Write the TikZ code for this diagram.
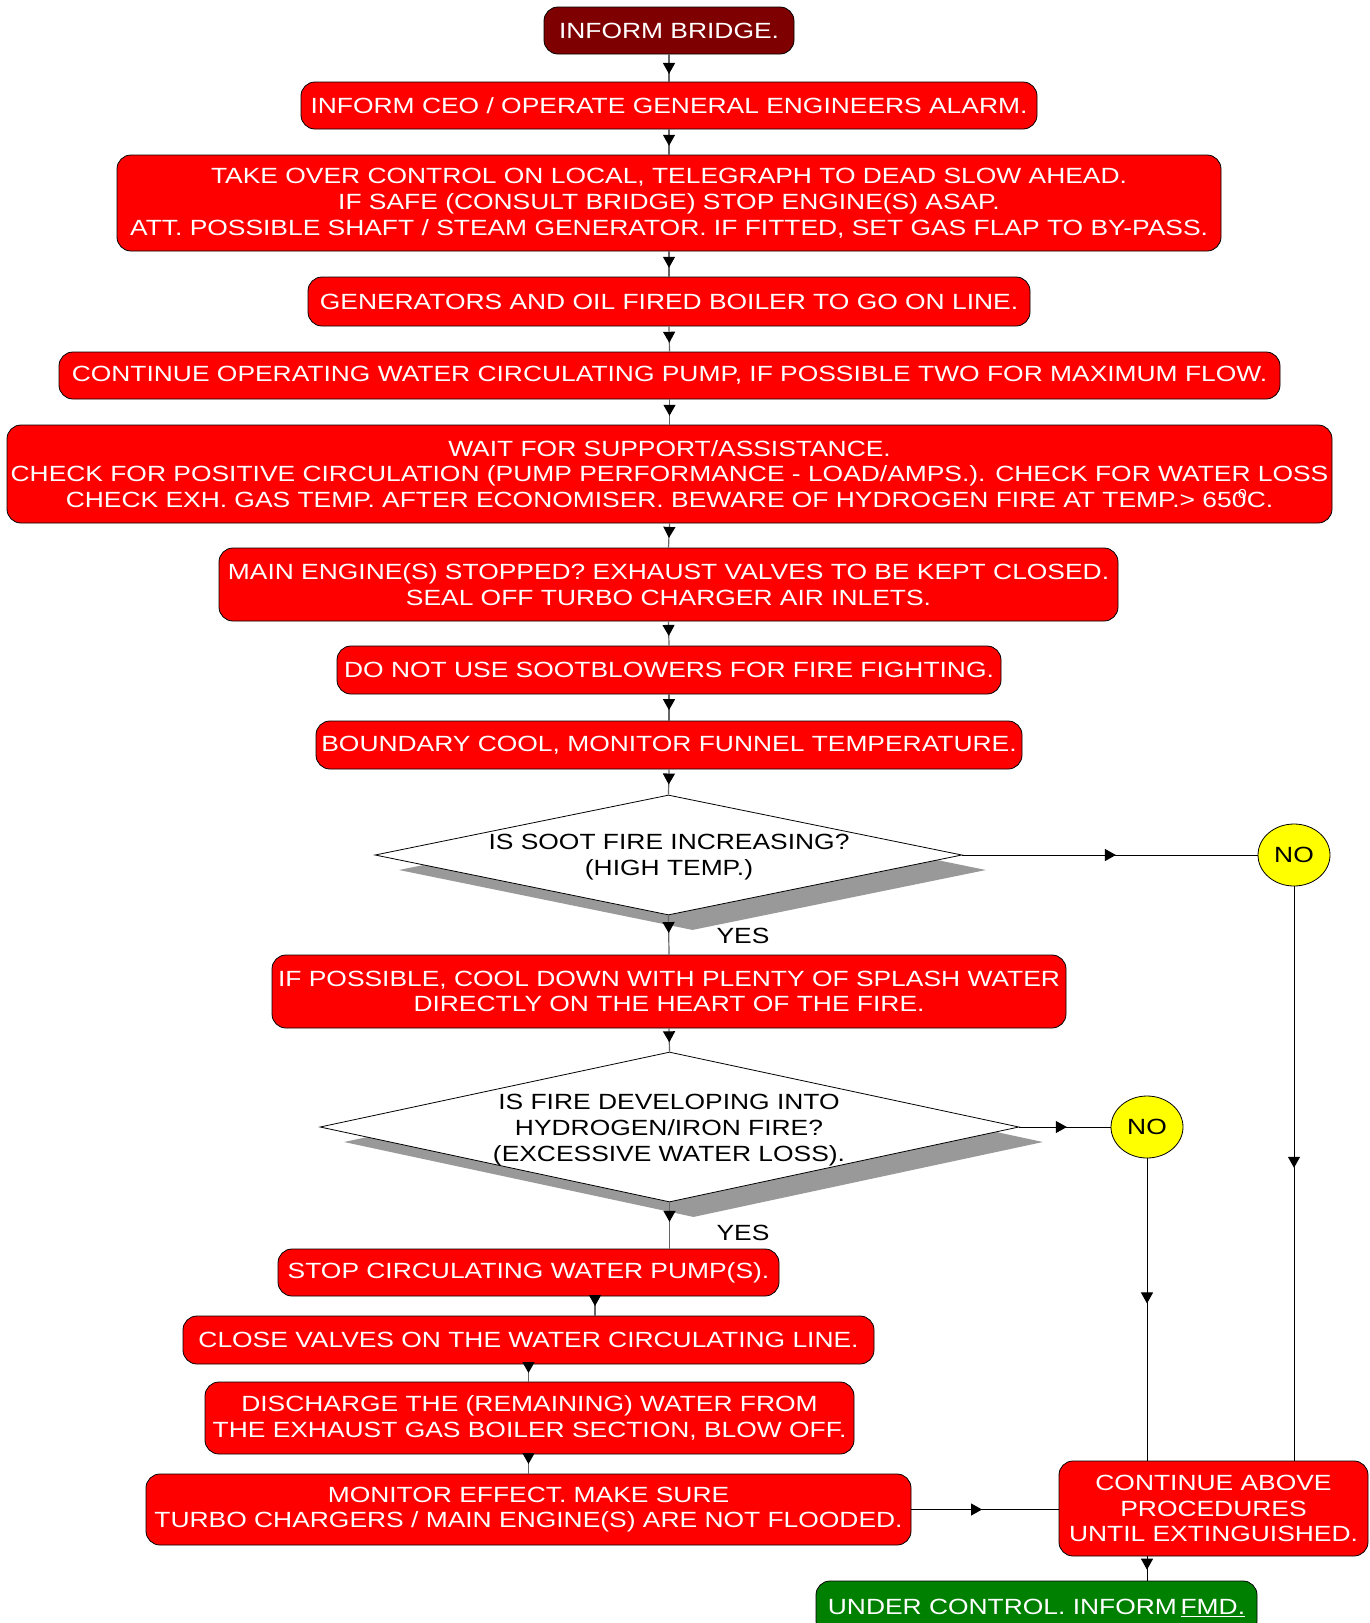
\documentclass[tikz,border=0pt]{standalone}
\usepackage{fontspec}
\setmainfont{Liberation Sans}[FakeStretch=1.2]
\usetikzlibrary{arrows.meta,decorations.markings,shapes.geometric}
\definecolor{bred}{HTML}{FF0000}
\definecolor{dred}{HTML}{7F0000}
\definecolor{bgreen}{HTML}{008000}
\definecolor{byellow}{HTML}{FFFF00}
\definecolor{shadowgray}{HTML}{999999}
\newcommand\boxfont{\fontsize{22}{25.8}\selectfont}
\tikzset{
  box/.style={draw=black, line width=0.8pt, fill=bred, rounded corners=14pt, text=white,
    font=\boxfont, align=center, inner sep=0pt},
  dia/.style={shape=diamond, draw=black, line width=0.8pt, fill=white, inner sep=0pt},
  diashadow/.style={shape=diamond, fill=shadowgray, draw=none, inner sep=0pt},
  dtext/.style={font=\boxfont, align=center, text=black, inner sep=0pt},
  noellipse/.style={shape=ellipse, draw=black, line width=0.8pt, fill=byellow, font=\boxfont,
    minimum width=72pt, minimum height=62pt, inner sep=0pt},
  lbl/.style={font=\boxfont, text=black, inner sep=0pt},
  conn/.style={draw=black!60, line width=1.2pt},
  sconn/.style={draw=black, line width=1pt},
  tipat/.style={postaction={decorate}, decoration={markings,
    mark=at position #1 with {\arrow[black]{Triangle[length=11pt,width=12pt]}}}},
}
\begin{document}
\begin{tikzpicture}[x=1pt,y=-1pt]
\useasboundingbox (0,0) rectangle (1369,1623);
\clip (0,0) rectangle (1369,1623);
\fill[white] (0,0) rectangle (1369,1623);

% main boxes
\node[box, fill=dred, minimum width=250pt, minimum height=47pt] (b1) at (669,30.5) {INFORM BRIDGE.};
\node[box, minimum width=736pt, minimum height=47pt] (b2) at (669,105.5) {INFORM CEO / OPERATE GENERAL ENGINEERS ALARM.};
\node[box, minimum width=1104pt, minimum height=96pt] (b3) at (669,203) {TAKE OVER CONTROL ON LOCAL, TELEGRAPH TO DEAD SLOW AHEAD.\\IF SAFE (CONSULT BRIDGE) STOP ENGINE(S) ASAP.\\ATT. POSSIBLE SHAFT / STEAM GENERATOR. IF FITTED, SET GAS FLAP TO BY-PASS.};
\node[box, minimum width=722pt, minimum height=49pt] (b4) at (669,301.5) {GENERATORS AND OIL FIRED BOILER TO GO ON LINE.};
\node[box, minimum width=1221pt, minimum height=47pt] (b5) at (669.5,375.5) {CONTINUE OPERATING WATER CIRCULATING PUMP, IF POSSIBLE TWO FOR MAXIMUM FLOW.};
\node[box, minimum width=1325pt, minimum height=98pt] (b6) at (669.5,474) {WAIT FOR SUPPORT/ASSISTANCE.\\CHECK FOR POSITIVE CIRCULATION (PUMP PERFORMANCE - LOAD/AMPS.). CHECK FOR WATER LOSS\\CHECK EXH. GAS TEMP. AFTER ECONOMISER. BEWARE OF HYDROGEN FIRE AT TEMP.> 650\kern-0.38em\raisebox{0.75ex}{\fontsize{13}{13}\selectfont 0}C.};
\node[box, minimum width=899pt, minimum height=73pt] (b7) at (668.5,584.5) {MAIN ENGINE(S) STOPPED? EXHAUST VALVES TO BE KEPT CLOSED.\\SEAL OFF TURBO CHARGER AIR INLETS.};
\node[box, minimum width=664pt, minimum height=48pt] (b8) at (669,670) {DO NOT USE SOOTBLOWERS FOR FIRE FIGHTING.};
\node[box, minimum width=706pt, minimum height=48pt] (b9) at (669,745) {BOUNDARY COOL, MONITOR FUNNEL TEMPERATURE.};

% decision 1
\node[diashadow, minimum width=587pt, minimum height=120pt] (d1s) at (692.5,870) {};
\node[dia, minimum width=587pt, minimum height=120pt] (d1) at (668.5,855) {};
\node[dtext] (d1t) at (669,857) {IS SOOT FIRE INCREASING?\\(HIGH TEMP.)};
\node[lbl] (yes1) at (743,936) {YES};
\node[noellipse] (no1) at (1294,855) {NO};

\node[box, minimum width=794pt, minimum height=73pt] (b10) at (669,991.5) {IF POSSIBLE, COOL DOWN WITH PLENTY OF SPLASH WATER\\DIRECTLY ON THE HEART OF THE FIRE.};

% decision 2
\node[diashadow, minimum width=699pt, minimum height=150pt] (d2s) at (693.5,1142) {};
\node[dia, minimum width=699pt, minimum height=150pt] (d2) at (669.5,1127) {};
\node[dtext] (d2t) at (669,1130) {IS FIRE DEVELOPING INTO\\HYDROGEN/IRON FIRE?\\(EXCESSIVE WATER LOSS).};
\node[lbl] (yes2) at (743,1233) {YES};
\node[noellipse] (no2) at (1147,1127) {NO};

% lower boxes
\node[box, minimum width=501pt, minimum height=47pt] (b11) at (528.5,1272.5) {STOP CIRCULATING WATER PUMP(S).};
\node[box, minimum width=691pt, minimum height=48pt] (b12) at (528.5,1340) {CLOSE VALVES ON THE WATER CIRCULATING LINE.};
\node[box, minimum width=649pt, minimum height=72pt] (b13) at (529.5,1418) {DISCHARGE THE (REMAINING) WATER FROM\\THE EXHAUST GAS BOILER SECTION, BLOW OFF.};
\node[box, minimum width=765pt, minimum height=71pt] (b14) at (528.5,1509.5) {MONITOR EFFECT. MAKE SURE\\TURBO CHARGERS / MAIN ENGINE(S) ARE NOT FLOODED.};
\node[box, minimum width=309pt, minimum height=95pt] (b15) at (1213.5,1508.5) {CONTINUE ABOVE\\PROCEDURES\\UNTIL EXTINGUISHED.};
\node[box, fill=bgreen, minimum width=441pt, minimum height=54pt] (b16) at (1036.5,1608) {UNDER CONTROL. INFORM\,\underline{FMD.}};

% connectors main column
\draw[conn, tipat=0.72] (b1.south) -- (b2.north);
\draw[conn, tipat=0.65] (b2.south) -- (b3.north);
\draw[conn, tipat=0.65] (b3.south) -- (b4.north);
\draw[conn, tipat=0.65] (b4.south) -- (b5.north);
\draw[conn, tipat=0.65] (b5.south) -- (b6.north);
\draw[conn, tipat=0.6] (b6.south) -- (b7.north);
\draw[conn, tipat=0.6] (b7.south) -- (b8.north);
\draw[conn, tipat=0.6] (b8.south) -- (b9.north);
\draw[conn, tipat=0.6] (b9.south) -- (d1.north);
\draw[conn, tipat=0.45] (d1.south) -- (b10.north);
\draw[conn, tipat=0.6] (b10.south) -- (d2.north);
\draw[conn, tipat=0.42] (d2.south) -- (d2.south |- b11.north);
\draw[conn, tipat=0.5] ([xshift=66.5pt]b11.south) -- ([xshift=66.5pt]b11.south |- b12.north);
\draw[conn, tipat=0.5] (b12.south) -- (b12.south |- b13.north);
\draw[conn, tipat=0.5] (b13.south -| b14.north) -- (b14.north);

% side connectors
\draw[sconn, tipat=0.52] (d1.east) -- (no1.west);
\draw[sconn, tipat=0.52] (d2.east) -- (no2.west);
\draw[sconn, tipat=0.49] (no1.south) -- (no1.south |- b15.north);
\draw[sconn, tipat=0.48] (no2.south) -- (no2.south |- b15.north);
\draw[sconn, tipat=0.48] (b14.east) -- (b14.east -| b15.west);
\draw[sconn, tipat=0.55] (no2.south |- b15.south) -- (no2.south |- b16.north);
\end{tikzpicture}
\end{document}
